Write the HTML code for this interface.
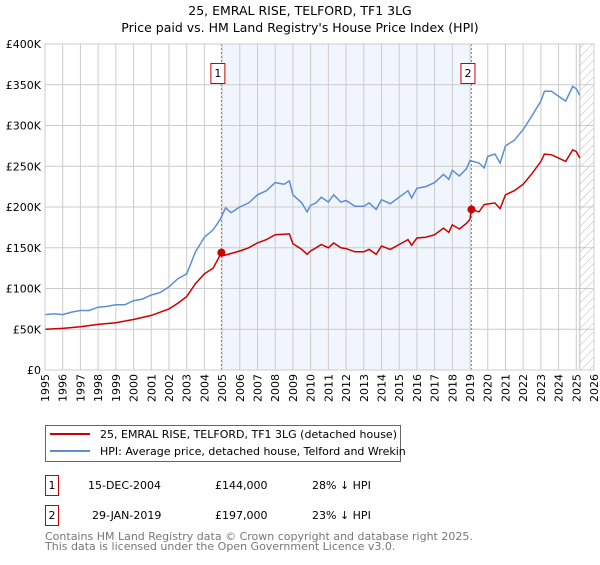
<!DOCTYPE html>
<html><head><meta charset="utf-8"><style>
body{margin:0;background:#fff;font-family:"Liberation Sans","DejaVu Sans",sans-serif;}
svg text{font-family:"DejaVu Sans","Liberation Sans",sans-serif;}
</style></head><body>
<svg id="c" width="600" height="560" viewBox="0 0 600 560">
<text x="300" y="15" text-anchor="middle" font-size="12.5" fill="#000">25, EMRAL RISE, TELFORD, TF1 3LG</text>
<text x="300" y="32" text-anchor="middle" font-size="12.5" fill="#000">Price paid vs. HM Land Registry's House Price Index (HPI)</text>
<g id="plot"></g>
<g>
<rect x="45.5" y="425.5" width="355" height="36" fill="#fff" stroke="#666"/>
<line x1="50" y1="434" x2="90" y2="434" stroke="#cc0000" stroke-width="2"/>
<text x="100" y="438" font-size="11">25, EMRAL RISE, TELFORD, TF1 3LG (detached house)</text>
<line x1="50" y1="451" x2="90" y2="451" stroke="#5b8fd4" stroke-width="2"/>
<text x="100" y="455" font-size="11">HPI: Average price, detached house, Telford and Wrekin</text>
</g>
<g font-size="11">
<rect x="45.5" y="475.5" width="13" height="20" fill="#fff" stroke="#cc0000"/><text x="52" y="489" text-anchor="middle">1</text>
<text x="88" y="489">15-DEC-2004</text><text x="215" y="489">£144,000</text><text x="312" y="489">28% ↓ HPI</text>
<rect x="45.5" y="505.5" width="13" height="20" fill="#fff" stroke="#cc0000"/><text x="52" y="519" text-anchor="middle">2</text>
<text x="92" y="519">29-JAN-2019</text><text x="215" y="519">£197,000</text><text x="312" y="519">23% ↓ HPI</text>
</g>
<text x="45" y="540" font-size="11" fill="#777">Contains HM Land Registry data © Crown copyright and database right 2025.</text>
<text x="45" y="550" font-size="11" fill="#777">This data is licensed under the Open Government Licence v3.0.</text>
</svg>
<script>
const hpiYears=[1995,1995.5,1996,1996.5,1997,1997.5,1998,1998.5,1999,1999.5,2000,2000.5,2001,2001.5,2002,2002.5,2003,2003.5,2004,2004.5,2004.9,2005.2,2005.5,2006,2006.5,2007,2007.5,2008,2008.5,2008.8,2009,2009.5,2009.8,2010,2010.3,2010.6,2011,2011.3,2011.7,2012,2012.5,2013,2013.3,2013.7,2014,2014.5,2015,2015.5,2015.7,2016,2016.5,2017,2017.5,2017.8,2018,2018.4,2018.8,2019,2019.5,2019.8,2020,2020.4,2020.7,2021,2021.5,2022,2022.5,2023,2023.2,2023.6,2024,2024.4,2024.8,2025,2025.2];
const hpiValues=[68,69,68,71,73,73,77,78,80,80,85,87,92,95,102,112,118,145,163,172,185,199,193,200,205,215,220,230,228,232,215,205,194,202,205,212,206,215,206,208,201,201,205,197,209,204,212,220,211,223,225,230,240,234,245,238,247,257,254,248,262,265,254,275,282,295,312,330,342,342,336,330,348,345,337];
const priceYears=[1995,1996,1997,1998,1999,2000,2001,2002,2002.5,2003,2003.5,2004,2004.5,2004.96,2005,2005.5,2006,2006.5,2007,2007.5,2008,2008.8,2009,2009.5,2009.8,2010,2010.3,2010.6,2011,2011.3,2011.7,2012,2012.5,2013,2013.3,2013.7,2014,2014.5,2015,2015.5,2015.7,2016,2016.5,2017,2017.5,2017.8,2018,2018.4,2018.8,2019,2019.08,2019.5,2019.8,2020.4,2020.7,2021,2021.5,2022,2022.5,2023,2023.2,2023.6,2024,2024.4,2024.8,2025,2025.2];
const priceValues=[50,51,53,56,58,62,67,75,82,90,106,118,125,144,140,143,146,150,156,160,166,167,155,148,142,146,150,154,150,156,150,149,145,145,148,142,152,148,154,160,153,162,163,166,174,169,178,173,180,185,197,194,203,205,198,215,220,228,241,256,265,264,260,256,270,268,260];
const saleYears=[2004.96,2019.08];
const saleValues=[144,197];
const saleLabels=["1","2"];
const yTicks=[0,50,100,150,200,250,300,350,400];
const yTickLabels=["£0","£50K","£100K","£150K","£200K","£250K","£300K","£350K","£400K"];
const xTicks=[];for(let y=1995;y<=2026;y++)xTicks.push(y);
const x0=45,x1=594,yTop=44,yBot=370;
const X=y=>x0+(y-1995)/31*(x1-x0);
const Y=v=>yBot-v/400*(yBot-yTop);
const NS="http://www.w3.org/2000/svg";
const g=document.getElementById('plot');
function mk(t,a,p){const e=document.createElementNS(NS,t);for(const k in a)e.setAttribute(k,a[k]);(p||g).appendChild(e);return e;}
let r=mk('rect',{x:X(saleYears[0]),y:yTop,width:X(saleYears[1])-X(saleYears[0]),height:yBot-yTop,fill:'#eef3fc',opacity:0.8});


xTicks.forEach((t,i)=>{
 const l=mk('line',{x1:X(t),x2:X(t),y1:yTop,y2:yBot,stroke:'#ccc','stroke-width':1});
 
 
 const tx=mk('text',{x:0,y:0,'text-anchor':'end','font-size':11,transform:'translate('+(X(t)+4)+','+(yBot+4)+') rotate(-90)'});
 tx.textContent=t;
 
 
});
yTicks.forEach((t,i)=>{
 const l=mk('line',{x1:x0,x2:x1,y1:Y(t),y2:Y(t),stroke:'#ccc','stroke-width':1});
 
 
 const tx=mk('text',{x:x0-4,y:Y(t)+4,'text-anchor':'end','font-size':11});
 tx.textContent=yTickLabels[i];
 
 
});
const defs=mk('defs',{});
const pat=mk('pattern',{id:'h',width:6,height:6,patternUnits:'userSpaceOnUse',patternTransform:'rotate(45)'},defs);
mk('line',{x1:0,y1:0,x2:0,y2:6,stroke:'#bbb','stroke-width':1},pat);
const hs=mk('rect',{x:X(2025.2),y:yTop,width:x1-X(2025.2),height:yBot-yTop,fill:'url(#h)',stroke:'#bbb'});


saleYears.forEach((s,i)=>{
 const l=mk('line',{x1:X(s),x2:X(s),y1:yTop,y2:yBot,stroke:'#e06060','stroke-dasharray':'2,2','stroke-width':1});
 
 
 const bx=mk('rect',{x:X(s)-10.5,y:63.5,width:14,height:20,fill:'#fff',stroke:'#cc0000'});
 
 
 const t=mk('text',{x:X(s)-3.5,y:77,'text-anchor':'middle','font-size':11});
 t.textContent=saleLabels[i];
 
 
});
const pts=(xs,vs)=>xs.map((y,i)=>X(y).toFixed(1)+','+Y(vs[i]).toFixed(1)).join(' ');
const hl=mk('polyline',{points:pts(hpiYears,hpiValues),fill:'none',stroke:'#5b8fd4','stroke-width':1.5});


const pl=mk('polyline',{points:pts(priceYears,priceValues),fill:'none',stroke:'#cc0000','stroke-width':1.5});


saleYears.forEach((s,i)=>{
 const c=mk('circle',{cx:X(s),cy:Y(saleValues[i]),r:4,fill:'#cc0000'});
 
 
});
const ax=mk('rect',{x:x0,y:yTop,width:x1-x0,height:yBot-yTop,fill:'none',stroke:'#ccc'});


</script>
</body></html>
